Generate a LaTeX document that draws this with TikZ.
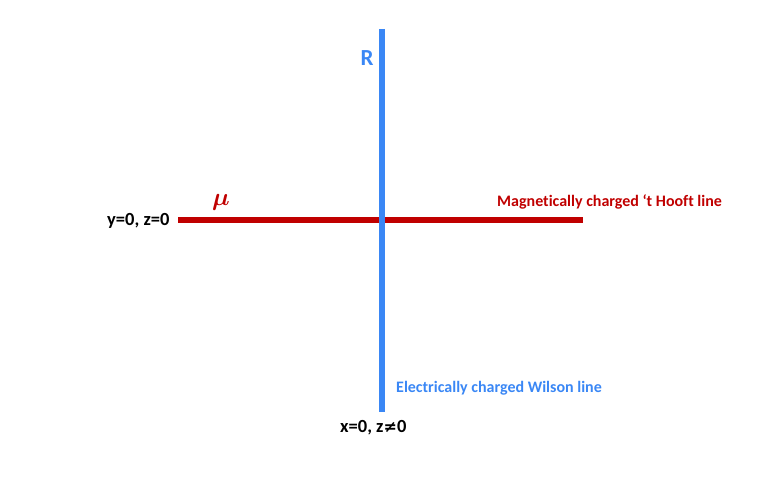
\documentclass[tikz,border=0pt]{standalone}
\usepackage{fontspec}
\setmainfont[Ligatures=NoCommon]{Carlito}
\newfontfamily\symfont{DejaVu Sans}
\usepackage{amsmath}
\definecolor{hred}{HTML}{C00000}
\definecolor{wblue}{HTML}{3A87F5}
\tikzset{
  lbl/.style={font=\bfseries\fontsize{16}{18}\selectfont, inner sep=0pt},
  blk/.style={font=\bfseries\fontsize{18.5}{20}\selectfont, inner sep=0pt},
  wline/.style={line width=6pt, draw=wblue},
  hline/.style={line width=6pt, draw=hred}
}
\begin{document}
\begin{tikzpicture}[x=1pt,y=-1pt]
\useasboundingbox (0,0) rectangle (763,478);
\coordinate (hl) at (178,220);
\coordinate (hr) at (583,220);
\coordinate (wt) at (382,29);
\coordinate (wb) at (382,412);
\draw[hline] (hl) -- (hr);
\draw[wline] (wt) -- (wb);
\node[inner sep=0pt, text=wblue, font=\bfseries\fontsize{23}{25}\selectfont] (R) at (367,58) {R};
\node[inner sep=0pt, text=hred, font=\fontsize{27}{29}\selectfont] (mu) at (221,202) {$\boldsymbol{\mu}$};
\node[blk, anchor=west] (yz) at (107,221) {y=0, z=0};
\node[lbl, text=hred, anchor=west] (hooft) at (497,202) {Magnetically charged ‘t Hooft line};
\node[lbl, text=wblue, anchor=west] (wilson) at (396,388) {Electrically charged Wilson line};
\node[blk, anchor=west] (xz) at (340,428) {x=0, z{\symfont\bfseries\fontsize{16}{18}\selectfont ≠}0};
\end{tikzpicture}
\end{document}
